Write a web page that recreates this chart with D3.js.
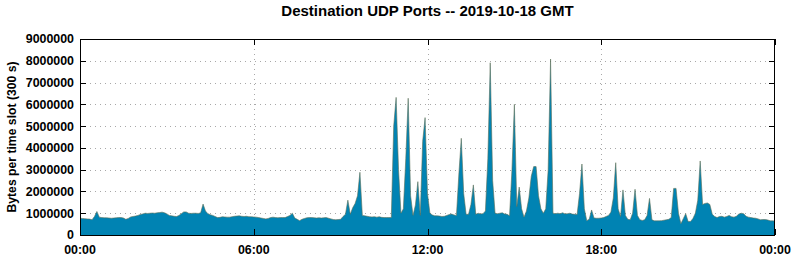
<!DOCTYPE html>
<html><head><meta charset="utf-8">
<script src="https://cdn.jsdelivr.net/npm/d3@7/dist/d3.min.js"></script>
<style>
body{margin:0;background:#fff;}
svg text{font-family:"Liberation Sans",Arial,Helvetica,sans-serif;font-weight:bold;fill:#000;}
</style>
</head><body>
<svg id="chart" width="795" height="260"></svg>
<script>
// ---- data ----
const title = "Destination UDP Ports -- 2019-10-18 GMT";
const yLabel = "Bytes per time slot (300 s)";
const slotSeconds = 300;
const yTicks = [0,1000000,2000000,3000000,4000000,5000000,6000000,7000000,8000000,9000000];
const xTickHours = [0,6,12,18,24];
const xTickLabels = ["00:00","06:00","12:00","18:00","00:00"];
// bytes per 300 s slot, in millions of bytes (slot 0 = 00:00 ... slot 288 = 24:00)
const udpBytesMillions = [
 .77,.76,.75,.74,.73,.70,.85,1.08,.82,.80,
 .79,.79,.78,.77,.78,.79,.80,.80,.78,.72,
 .76,.83,.85,.87,.90,.94,.97,1.00,.99,1.00,
 1.01,1.00,1.02,1.03,1.05,1.02,.97,.90,.88,.86,
 .85,.90,.98,1.06,1.06,1.00,.99,1.00,1.00,.99,
 1.02,1.42,1.10,.98,.93,.90,.85,.80,.81,.84,
 .83,.82,.82,.84,.86,.87,.88,.86,.85,.86,
 .84,.84,.83,.82,.80,.78,.76,.74,.76,.80,
 .82,.80,.79,.80,.80,.80,.85,.90,1.00,.78,
 .72,.66,.72,.76,.79,.80,.80,.79,.78,.79,
 .78,.79,.80,.77,.74,.71,.70,.71,.72,.85,
 .95,1.60,.95,1.25,1.45,1.80,2.88,.90,.88,.86,
 .84,.83,.84,.82,.84,.81,.80,.80,.80,.80,
 5.00,6.32,3.00,1.00,1.20,3.50,6.28,1.80,.90,1.38,
 2.45,.90,4.30,5.39,1.90,1.00,.92,.88,.88,.87,
 .85,.86,.90,.94,.96,.92,.90,2.80,4.44,1.90,
 .95,.95,1.40,2.30,.95,1.00,.97,.98,1.10,3.50,
 7.91,2.50,1.00,.98,1.00,1.02,.96,.95,.88,3.00,
 6.00,1.30,2.20,1.20,.82,1.10,1.70,2.70,3.14,3.14,
 1.80,1.20,1.00,1.20,3.00,8.08,1.00,.98,1.00,.98,
 1.02,.97,.98,1.00,.96,.95,.94,1.90,3.26,1.20,
 .66,.72,1.15,.78,.77,.77,.78,.80,.85,.90,
 1.05,1.70,3.32,1.20,.85,2.07,.90,.72,.70,1.00,
 2.10,.90,.70,.67,.70,.90,1.68,.70,.65,.65,
 .65,.66,.68,.70,.72,.80,2.14,2.14,1.00,.52,
 .75,.98,.62,.62,.76,1.00,1.60,3.40,1.40,1.45,
 1.47,1.40,.95,.85,.80,.85,.86,.82,.85,.90,
 .84,.82,.86,.96,1.00,.98,.86,.82,.80,.78,
 .77,.74,.70,.71,.71,.69,.65,.65,.64
];

// ---- layout ----
const plot = {left: 80, right: 775, top: 39, bottom: 235};
const svg = d3.select("#chart");

const x = d3.scaleLinear().domain([0, 24*3600]).range([plot.left, plot.right]);
const y = d3.scaleLinear().domain([0, 9000000]).range([plot.bottom, plot.top]);

const data = udpBytesMillions.map((v, i) => ({t: i*slotSeconds, v: v*1e6}));

// grid
const grid = svg.append("g");
grid.selectAll("line.gy").data(yTicks.slice(1, -1)).join("line")
  .attr("x1", plot.left).attr("x2", plot.right)
  .attr("y1", d => Math.round(y(d)) + 0.5).attr("y2", d => Math.round(y(d)) + 0.5)
  .attr("stroke", "#a8a8a8").attr("stroke-width", 1).attr("stroke-dasharray", "1,4");
grid.selectAll("line.gx").data(xTickHours.slice(1, -1)).join("line")
  .attr("x1", d => Math.round(x(d*3600)) + 0.5).attr("x2", d => Math.round(x(d*3600)) + 0.5)
  .attr("y1", plot.top).attr("y2", plot.bottom)
  .attr("stroke", "#a8a8a8").attr("stroke-width", 1).attr("stroke-dasharray", "1,4");

// area
const area = d3.area().x(d => x(d.t)).y0(y(0)).y1(d => y(d.v));
const line = d3.line().x(d => x(d.t)).y(d => y(d.v));
svg.append("path").datum(data).attr("d", area).attr("fill", "#0083b3");
svg.append("path").datum(data).attr("d", line).attr("fill", "none")
  .attr("stroke", "#5a6e58").attr("stroke-width", 0.8).attr("stroke-opacity", 0.75);

// ticks (inward, all sides)
const tl = 6;
const ticks = svg.append("g").attr("stroke", "#000").attr("stroke-width", 1);
yTicks.forEach(d => {
  const yy = Math.round(y(d)) + 0.5;
  ticks.append("line").attr("x1", plot.left).attr("x2", plot.left + tl).attr("y1", yy).attr("y2", yy);
  ticks.append("line").attr("x1", plot.right - tl).attr("x2", plot.right).attr("y1", yy).attr("y2", yy);
});
xTickHours.forEach(h => {
  const xx = Math.round(x(h*3600)) + 0.5;
  ticks.append("line").attr("x1", xx).attr("x2", xx).attr("y1", plot.top).attr("y2", plot.top + tl);
  ticks.append("line").attr("x1", xx).attr("x2", xx).attr("y1", plot.bottom - tl).attr("y2", plot.bottom);
});

// border
svg.append("rect").attr("x", plot.left + 0.5).attr("y", plot.top + 0.5)
  .attr("width", plot.right - plot.left - 1).attr("height", plot.bottom - plot.top)
  .attr("fill", "none").attr("stroke", "#000").attr("stroke-width", 1);

// y tick labels
svg.append("g").selectAll("text").data(yTicks).join("text")
  .attr("x", 74).attr("y", d => y(d)).attr("dy", "0.36em")
  .attr("text-anchor", "end").attr("font-size", 12.4).text(d => d3.format("d")(d));

// x tick labels
svg.append("g").selectAll("text").data(xTickHours).join("text")
  .attr("x", d => x(d*3600)).attr("y", 254)
  .attr("text-anchor", "middle").attr("font-size", 12.4).text((d, i) => xTickLabels[i]);

// title
svg.append("text").attr("x", (plot.left + plot.right) / 2).attr("y", 16)
  .attr("text-anchor", "middle").attr("font-size", 15).text(title);

// y label
svg.append("text").attr("transform", `translate(16,${(plot.top + plot.bottom) / 2}) rotate(-90)`)
  .attr("text-anchor", "middle").attr("font-size", 12.2).text(yLabel);
</script>
</body></html>
